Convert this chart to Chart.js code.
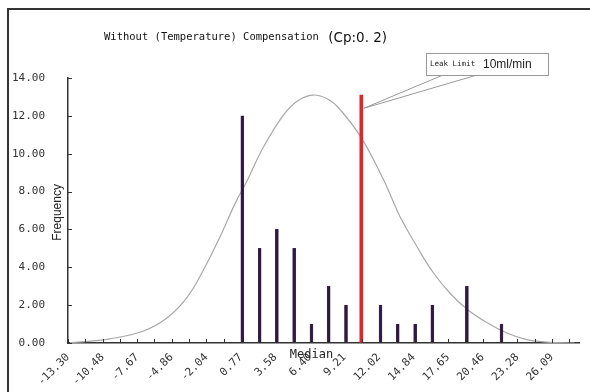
<!DOCTYPE html>
<html>
<head>
    <style>
        html, body {
            margin: 0;
            padding: 0;
            background: #fff;
        }
        .wrap {
            position: relative;
            width: 590px;
            height: 392px;
        }
    </style>
</head>
<body>
    <div class="wrap">
        <canvas id="histChart" width="590" height="392"></canvas>
    </div>

    <script src="https://cdn.jsdelivr.net/npm/chart.js@4.4.1/dist/chart.umd.min.js"></script>
    <script>
        // x tick labels (bin edges shown every other tick)
        const tickLabels = ['-13.30', '-10.48', '-7.67', '-4.86', '-2.04', '0.77', '3.58', '6.40',
                            '9.21', '12.02', '14.84', '17.65', '20.46', '23.28', '26.09'];

        // histogram bars (bin centre, frequency)
        const binCenters = [0.77, 2.18, 3.58, 4.99, 6.40, 7.80, 9.21, 12.02, 13.42, 14.84, 16.24, 19.05, 21.87];
        const frequencies = [12, 5, 6, 5, 1, 3, 2, 2, 1, 1, 2, 3, 1];

        // leak limit marker
        const limitX = 10.7;
        const limitHeight = 13.1;

        // normal curve
        const curveX = [-13.14, -12.16, -9.88, -7.20, -5.25, -3.62, -2.32, -0.93, 0.29, 1.26, 2.57, 4.19,
                        5.40, 6.63, 7.80, 8.83, 10.62, 12.33, 13.06, 13.71, 15.10, 16.40, 17.78, 19.16,
                        20.79, 22.42, 24.04, 25.67, 27.95];
        const curveY = [0.02, 0.06, 0.22, 0.62, 1.32, 2.40, 3.80, 5.60, 7.35, 8.55, 10.30, 12.00,
                        12.80, 13.10, 12.90, 12.35, 10.80, 8.70, 7.65, 6.70, 5.10, 3.75, 2.64, 1.80,
                        1.08, 0.53, 0.18, 0.05, 0.00];

        const monoFont = '"DejaVu Sans Mono", "Liberation Mono", monospace';

        // all tick positions: labelled ones plus the unlabelled halfway ticks
        const tickValues = [];
        tickLabels.forEach((t, i) => {
            const v = parseFloat(t);
            tickValues.push(v);
            const next = i < tickLabels.length - 1 ? parseFloat(tickLabels[i + 1])
                : v + (v - parseFloat(tickLabels[i - 1]));
            tickValues.push((v + next) / 2);
        });

        const decorations = {
            id: 'decorations',
            afterDraw(chart) {
                const ctx = chart.ctx;
                const area = chart.chartArea;
                const xs = chart.scales.x;
                const ys = chart.scales.y;
                ctx.save();

                // frame
                ctx.strokeStyle = '#333';
                ctx.lineWidth = 2;
                ctx.beginPath();
                ctx.moveTo(8, 400);
                ctx.lineTo(8, 9);
                ctx.lineTo(600, 9);
                ctx.stroke();

                // inward tick marks
                ctx.strokeStyle = '#333';
                ctx.lineWidth = 1;
                ctx.beginPath();
                ys.ticks.forEach(t => {
                    const py = Math.round(ys.getPixelForValue(t.value)) + 0.5;
                    ctx.moveTo(area.left, py);
                    ctx.lineTo(area.left + 4, py);
                });
                xs.ticks.forEach(t => {
                    const px = Math.round(xs.getPixelForValue(t.value)) + 0.5;
                    ctx.moveTo(px, area.bottom);
                    ctx.lineTo(px, area.bottom - 4);
                });
                ctx.stroke();

                // title
                ctx.fillStyle = '#111';
                ctx.textBaseline = 'middle';
                ctx.textAlign = 'left';
                ctx.font = '10.5px ' + monoFont;
                const part1 = 'Without (Temperature) Compensation ';
                ctx.fillText(part1, 104, 37);
                const w1 = ctx.measureText(part1).width;
                ctx.font = '13.5px "DejaVu Sans", sans-serif';
                ctx.fillText('(Cp:0. 2)', 104 + w1 + 3, 38);

                // axis titles
                ctx.fillStyle = '#222';
                ctx.font = '12px ' + monoFont;
                ctx.textAlign = 'center';
                ctx.fillText('Median', (area.left + area.right) / 2 - 12, area.bottom + 12);

                ctx.save();
                ctx.translate(area.left - 10, ys.getPixelForValue(6.9));
                ctx.rotate(-Math.PI / 2);
                ctx.font = '12px "Liberation Sans", Arial, sans-serif';
                ctx.fillText('Frequency', 0, 0);
                ctx.restore();

                // leak limit callout
                const tipX = xs.getPixelForValue(limitX) + 1;
                const tipY = ys.getPixelForValue(12.4);
                const bx = 426, by = 53, bw = 122, bh = 22;
                ctx.strokeStyle = '#999';
                ctx.lineWidth = 1;
                ctx.beginPath();
                ctx.moveTo(bx + 17, by + bh);
                ctx.lineTo(tipX, tipY);
                ctx.lineTo(bx + 51, by + bh);
                ctx.stroke();
                ctx.fillStyle = '#fff';
                ctx.fillRect(bx, by, bw, bh);
                ctx.strokeRect(bx + 0.5, by + 0.5, bw, bh);
                ctx.fillStyle = '#222';
                ctx.textAlign = 'left';
                ctx.font = '7.5px ' + monoFont;
                ctx.fillText('Leak Limit', bx + 4, by + bh / 2);
                ctx.font = '12px "Liberation Sans", Arial, sans-serif';
                ctx.fillText('10ml/min', bx + 57, by + bh / 2 + 1);

                ctx.restore();
            }
        };

        const ctx = document.getElementById('histChart').getContext('2d');
        new Chart(ctx, {
            type: 'bar',
            data: {
                datasets: [
                    {
                        label: 'Frequency',
                        data: binCenters.map((x, i) => ({ x: x, y: frequencies[i] })),
                        backgroundColor: '#2e1a3f',
                        borderColor: '#4a2d5e',
                        borderWidth: 0.5,
                        barThickness: 3,
                        order: 1
                    },
                    {
                        label: 'Leak Limit',
                        data: [{ x: limitX, y: limitHeight }],
                        backgroundColor: '#e0262a',
                        barThickness: 3,
                        order: 0
                    },
                    {
                        type: 'line',
                        label: 'Normal',
                        data: curveX.map((x, i) => ({ x: x, y: curveY[i] })),
                        borderColor: '#a8a8a8',
                        borderWidth: 1.2,
                        pointRadius: 0,
                        fill: false,
                        tension: 0.4,
                        order: 2
                    }
                ]
            },
            options: {
                responsive: false,
                animation: false,
                layout: {
                    padding: { left: 0, right: 11, top: 78, bottom: 0 }
                },
                plugins: {
                    legend: { display: false },
                    tooltip: { enabled: false }
                },
                scales: {
                    x: {
                        type: 'linear',
                        min: -13.30,
                        max: 28.3,
                        offset: false,
                        afterBuildTicks: scale => {
                            scale.ticks = tickValues.map(v => ({ value: v }));
                        },
                        afterFit: scale => {
                            scale.height = 49;
                        },
                        grid: {
                            display: true,
                            drawOnChartArea: false,
                            drawTicks: false,
                            offset: false
                        },
                        border: { display: true, color: '#333', width: 1.5 },
                        ticks: {
                            autoSkip: false,
                            minRotation: 45,
                            maxRotation: 45,
                            padding: 8,
                            color: '#333',
                            font: { family: monoFont, size: 11 },
                            callback: (value, index) => index % 2 === 0 ? tickLabels[index / 2] : ''
                        }
                    },
                    y: {
                        min: 0,
                        max: 14,
                        afterFit: scale => {
                            scale.width = 68;
                        },
                        grid: {
                            display: true,
                            drawOnChartArea: false,
                            drawTicks: false
                        },
                        border: { display: true, color: '#333', width: 1.5 },
                        ticks: {
                            stepSize: 2,
                            padding: 23,
                            color: '#333',
                            font: { family: monoFont, size: 11 },
                            callback: v => v.toFixed(2)
                        }
                    }
                }
            },
            plugins: [decorations]
        });
    </script>
</body>
</html>
